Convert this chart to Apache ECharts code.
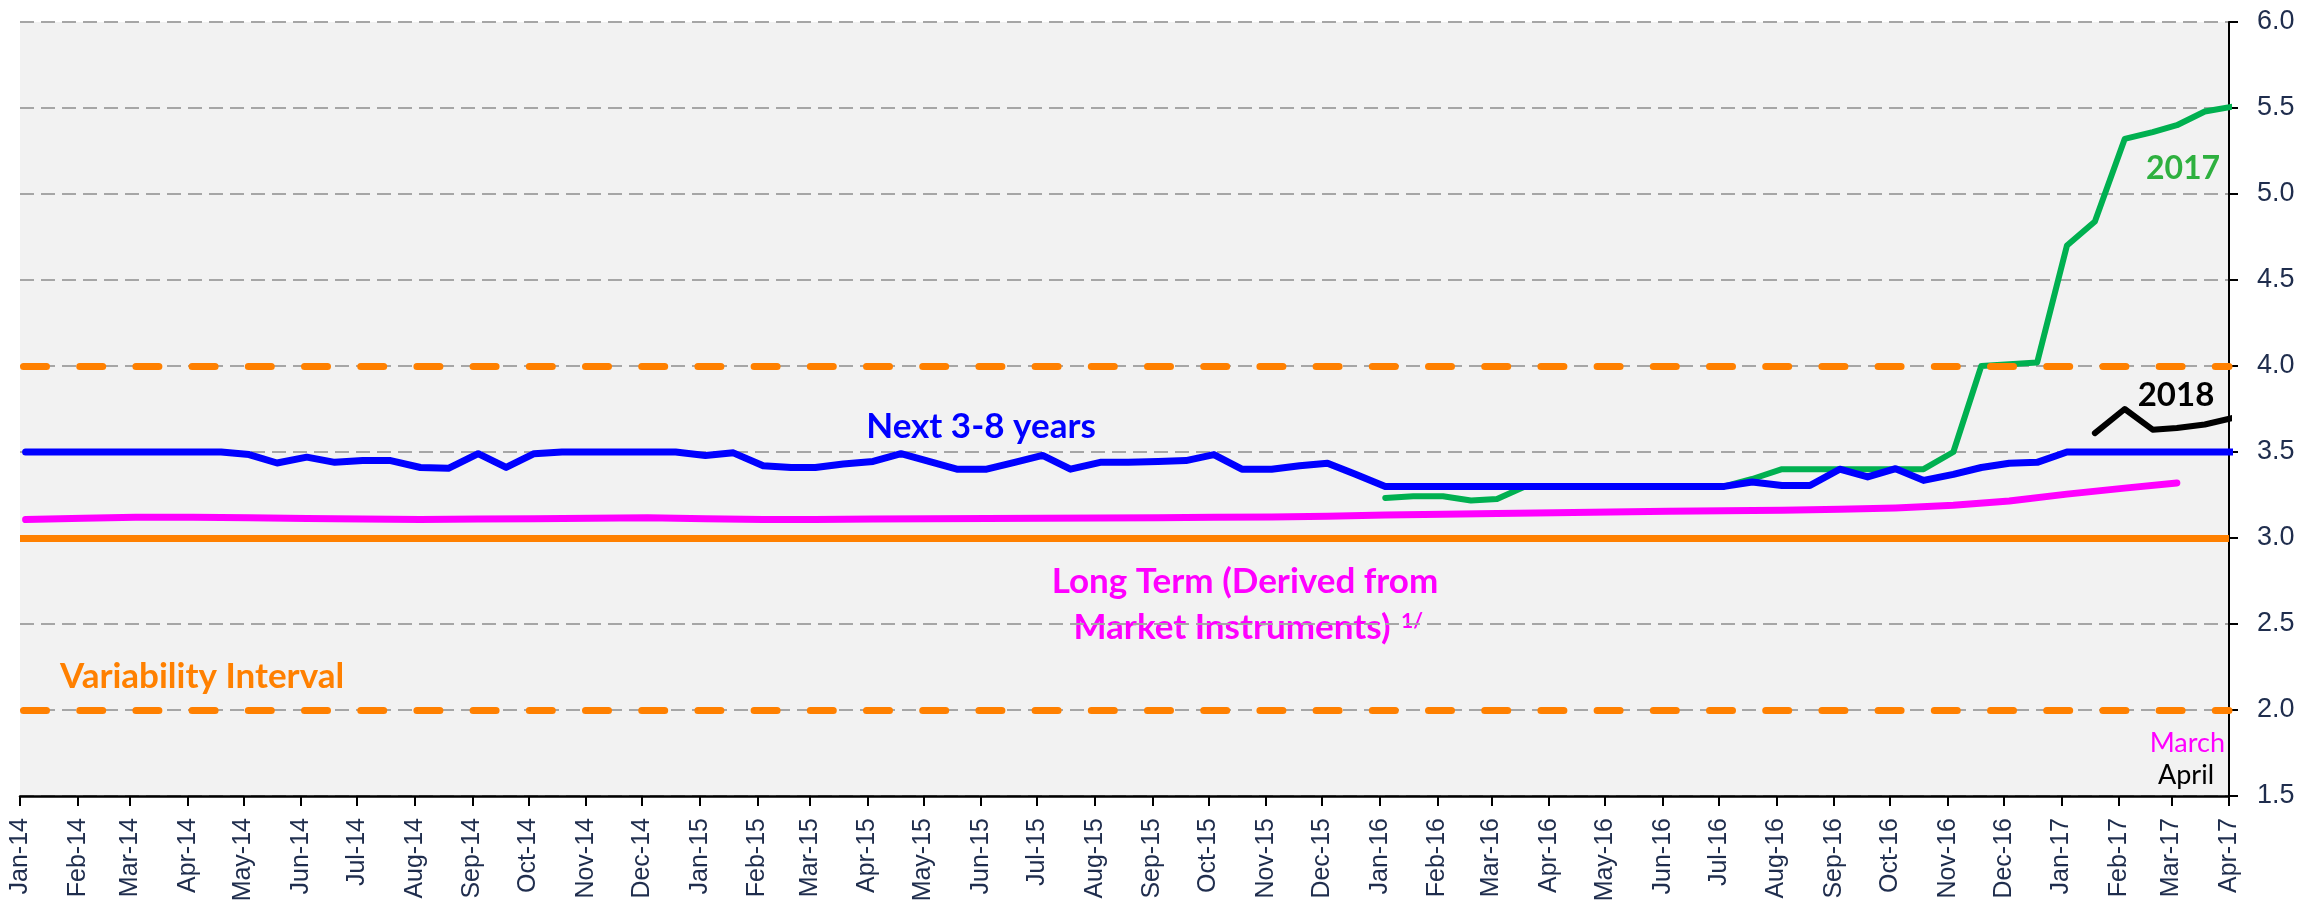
<!DOCTYPE html>
<html>
<head>
<meta charset="utf-8">
<title>Inflation expectations</title>
<script src="https://cdn.jsdelivr.net/npm/echarts@6/dist/echarts.min.js"></script>
<style>
  html, body { margin: 0; padding: 0; background: #fff; }
  #chart { width: 2303px; height: 913px; }
</style>
</head>
<body>
<div id="chart"></div>
<script>
const monthNames = ['Jan', 'Feb', 'Mar', 'Apr', 'May', 'Jun', 'Jul', 'Aug', 'Sep', 'Oct', 'Nov', 'Dec']

// survey is biweekly: two slots per month, Jan-14 (1st half) .. Apr-17 (1st half)
const slotDays = [4, 19]
const slotDates = []
for (let i = 0; i < 79; i++) {
  slotDates.push(new Date(2014, Math.floor(i / 2), slotDays[i % 2]).getTime())
}
// month starts Jan-14 .. Apr-17, used for ticks and labels
const monthTicks = []
for (let m = 0; m <= 39; m++) monthTicks.push(new Date(2014, m, 1).getTime())

// Next 3-8 years, every slot from Jan-14
const next38 = [
  3.50, 3.50, 3.50, 3.50, 3.50, 3.50, 3.50, 3.50, 3.485, 3.436, 3.47, 3.44,
  3.45, 3.45, 3.41, 3.405, 3.49, 3.41, 3.49, 3.50, 3.50, 3.50, 3.50, 3.50,
  3.48, 3.495, 3.42, 3.41, 3.41, 3.43, 3.445, 3.49, 3.445, 3.40, 3.40, 3.44,
  3.48, 3.40, 3.44, 3.44, 3.445, 3.45, 3.485, 3.40, 3.40, 3.42, 3.435, 3.37,
  3.30, 3.30, 3.30, 3.30, 3.30, 3.30, 3.30, 3.30, 3.30, 3.30, 3.30, 3.30,
  3.30, 3.326, 3.305, 3.305, 3.40, 3.355, 3.403, 3.335, 3.37, 3.41, 3.435, 3.44,
  3.50, 3.50, 3.50, 3.50, 3.50, 3.50, 3.50
]
// 2017 expectations, from Jan-16 (slot 48)
const start2017 = 48
const exp2017 = [
  3.233, 3.243, 3.243, 3.218, 3.227, 3.30, 3.30, 3.30, 3.30, 3.30, 3.30, 3.30,
  3.30, 3.343, 3.40, 3.40, 3.40, 3.40, 3.40, 3.40, 3.50, 4.00, 4.01, 4.02,
  4.70, 4.84, 5.32, 5.36, 5.40, 5.48, 5.51
]
// 2018 expectations, from 2nd half of Jan-17 (slot 73)
const start2018 = 73
const exp2018 = [3.61, 3.75, 3.63, 3.64, 3.66, 3.70]
// long term (market instruments), monthly Jan-14 .. Mar-17
const longTerm = [
  3.107, 3.115, 3.12, 3.12, 3.118, 3.113, 3.11, 3.108, 3.11, 3.112, 3.115, 3.118,
  3.112, 3.108, 3.108, 3.11, 3.112, 3.113, 3.115, 3.117, 3.118, 3.12, 3.122, 3.127,
  3.133, 3.138, 3.143, 3.147, 3.151, 3.155, 3.158, 3.162, 3.167, 3.175, 3.19, 3.215,
  3.255, 3.29, 3.32
]
const target = 3.0
const bandLow = 2.0
const bandHigh = 4.0

const pairs = (vals, start, step) => vals.map((v, i) => [slotDates[start + i * step], v])

const orange = '#FF8000'
const dashed = { color: orange, width: 7, type: [23, 33.2], dashOffset: -3.5, cap: 'round' }

const chart = echarts.init(document.getElementById('chart'))
chart.setOption({
  animation: false,
  grid: {
    left: 20, right: 74, top: 22, bottom: 117,
    show: true, backgroundColor: '#F2F2F2', borderWidth: 0
  },
  xAxis: {
    type: 'value',
    min: monthTicks[0],
    max: monthTicks[monthTicks.length - 1],
    axisLine: { show: true, onZero: false, lineStyle: { color: '#000', width: 2.5 } },
    axisTick: { show: true, customValues: monthTicks, length: 10, lineStyle: { color: '#000', width: 2 } },
    axisLabel: {
      customValues: monthTicks,
      rotate: 90,
      margin: 22,
      fontSize: 25,
      fontFamily: 'Liberation Sans',
      color: '#1F2D4D',
      formatter: (v) => {
        const d = new Date(v)
        return monthNames[d.getMonth()] + '-' + String(d.getFullYear()).slice(2)
      }
    },
    splitLine: { show: false }
  },
  yAxis: {
    type: 'value',
    position: 'right',
    min: 1.5, max: 6, interval: 0.5,
    axisLine: { show: true, lineStyle: { color: '#000', width: 2 } },
    axisTick: { show: true, length: 9, lineStyle: { color: '#000', width: 2 } },
    axisLabel: {
      margin: 28, fontSize: 27, fontFamily: 'Liberation Sans', color: '#1F2D4D',
      formatter: (v) => v.toFixed(1)
    },
    splitLine: { show: true, lineStyle: { color: '#A6A6A6', width: 2, type: [14, 7] } }
  },
  series: [
    {
      name: '2017', type: 'line', data: pairs(exp2017, start2017, 1),
      symbol: 'none', lineStyle: { color: '#00B050', width: 6, cap: 'round', join: 'round' }
    },
    {
      name: 'Long Term', type: 'line', data: pairs(longTerm, 0, 2),
      symbol: 'none', lineStyle: { color: '#FF00FF', width: 7, cap: 'round', join: 'round' }
    },
    {
      name: 'Next 3-8 years', type: 'line', data: pairs(next38, 0, 1),
      symbol: 'none', lineStyle: { color: '#0000FF', width: 7, cap: 'round', join: 'round' }
    },
    {
      name: '2018', type: 'line', data: pairs(exp2018, start2018, 1),
      symbol: 'none', lineStyle: { color: '#000', width: 6, cap: 'round', join: 'round' }
    },
    {
      name: 'Target', type: 'line', data: [],
      markLine: {
        silent: true, symbol: 'none', label: { show: false },
        emphasis: { disabled: true },
        data: [
          { yAxis: bandHigh, lineStyle: dashed },
          { yAxis: bandLow, lineStyle: dashed },
          { yAxis: target, lineStyle: { color: orange, width: 7, type: 'solid' } }
        ]
      }
    }
  ],
  graphic: [
    { type: 'text', x: 981, y: 427, style: { text: 'Next 3-8 years', fill: '#0000FF', font: 'bold 35px Lato', align: 'center', verticalAlign: 'middle' } },
    { type: 'text', x: 2183, y: 169, style: { text: '2017', fill: '#2EB03F', font: 'bold 32px Lato', align: 'center', verticalAlign: 'middle' } },
    { type: 'text', x: 2176, y: 395, style: { text: '2018', fill: '#000', font: 'bold 33px Lato', align: 'center', verticalAlign: 'middle' } },
    { type: 'text', x: 1245, y: 582, style: { text: 'Long Term (Derived from', fill: '#FF00FF', font: 'bold 35px Lato', align: 'center', verticalAlign: 'middle' } },
    { type: 'text', x: 1232, y: 628, style: { text: 'Market Instruments)', fill: '#FF00FF', font: 'bold 35px Lato', align: 'center', verticalAlign: 'middle' } },
    { type: 'text', x: 1401, y: 621, style: { text: '1/', fill: '#FF00FF', font: 'bold 21px Lato', align: 'left', verticalAlign: 'middle' } },
    { type: 'text', x: 60, y: 677, style: { text: 'Variability Interval', fill: orange, font: 'bold 35px Lato', align: 'left', verticalAlign: 'middle' } },
    { type: 'text', x: 2225, y: 743, style: { text: 'March', fill: '#FF00FF', font: '27px Lato', align: 'right', verticalAlign: 'middle' } },
    { type: 'text', x: 2214, y: 775, style: { text: 'April', fill: '#000', font: '27px Lato', align: 'right', verticalAlign: 'middle' } }
  ]
})
</script>
</body>
</html>
